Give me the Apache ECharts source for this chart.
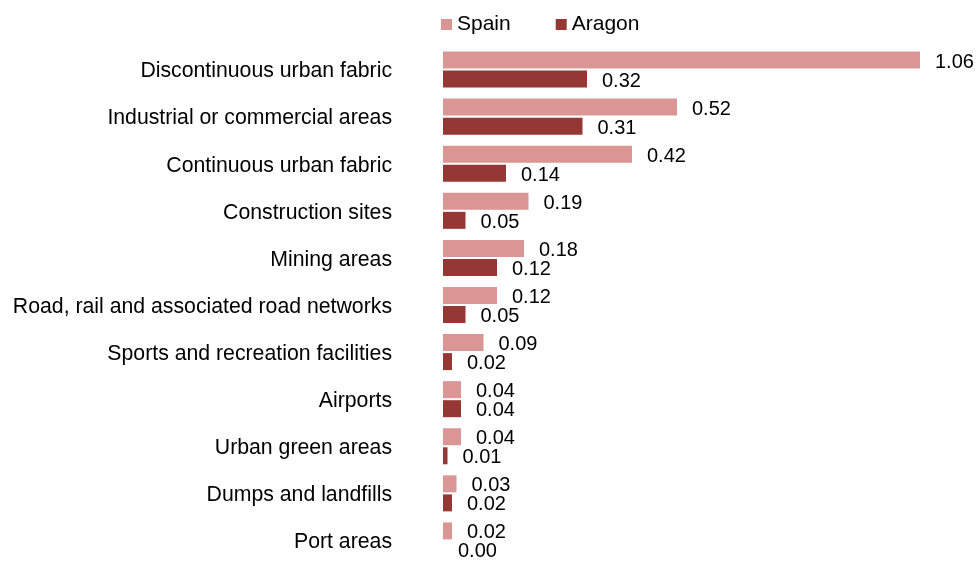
<!DOCTYPE html>
<html>
<head>
<meta charset="utf-8">
<script src="https://cdn.jsdelivr.net/npm/echarts@6/dist/echarts.min.js"></script>
<style>
  html, body { margin: 0; padding: 0; background: #fff; }
  #chart { width: 976px; height: 566px; }
</style>
</head>
<body>
<div id="chart"></div>
<script>
// land-cover categories, top to bottom
var categories = [
  'Discontinuous urban fabric',
  'Industrial or commercial areas',
  'Continuous urban fabric',
  'Construction sites',
  'Mining areas',
  'Road, rail and associated road networks',
  'Sports and recreation facilities',
  'Airports',
  'Urban green areas',
  'Dumps and landfills',
  'Port areas'
]
var spainValues = [1.06, 0.52, 0.42, 0.19, 0.18, 0.12, 0.09, 0.04, 0.04, 0.03, 0.02]
var aragonValues = [0.32, 0.31, 0.14, 0.05, 0.12, 0.05, 0.02, 0.04, 0.01, 0.02, 0.00]

var font = 'Liberation Sans, Arial, sans-serif'
var chart = echarts.init(document.getElementById('chart'))

function barLabel () {
  return {
    show: true,
    position: 'right',
    distance: 15,
    offset: [0, 2],
    color: '#000',
    fontFamily: font,
    fontSize: 20,
    formatter: function (p) { return p.value.toFixed(2) }
  }
}

chart.setOption({
  animation: false,
  legend: {
    top: 9,
    left: 436,
    itemWidth: 11,
    itemHeight: 11,
    itemGap: 45,
    icon: 'rect',
    textStyle: {fontFamily: font, fontSize: 21, color: '#000'},
    data: ['Spain', 'Aragon']
  },
  grid: {left: 443, right: 56, top: 46, bottom: 2},
  xAxis: {
    type: 'value',
    min: 0,
    max: 1.06,
    show: false
  },
  yAxis: {
    type: 'category',
    inverse: true,
    data: categories,
    axisLine: {show: false},
    axisTick: {show: false},
    axisLabel: {
      margin: 51,
      formatter: function (v) { return '{a|' + v + '}' },
      rich: {a: {color: '#000', fontFamily: font, fontSize: 21.25, padding: [4, 0, 0, 0]}}
    }
  },
  series: [{
    name: 'Spain',
    type: 'bar',
    barWidth: 17,
    barGap: '12%',
    itemStyle: {color: '#d99694'},
    label: barLabel(),
    data: spainValues
  }, {
    name: 'Aragon',
    type: 'bar',
    barWidth: 17,
    itemStyle: {color: '#953735'},
    label: barLabel(),
    data: aragonValues
  }]
})
</script>
</body>
</html>
